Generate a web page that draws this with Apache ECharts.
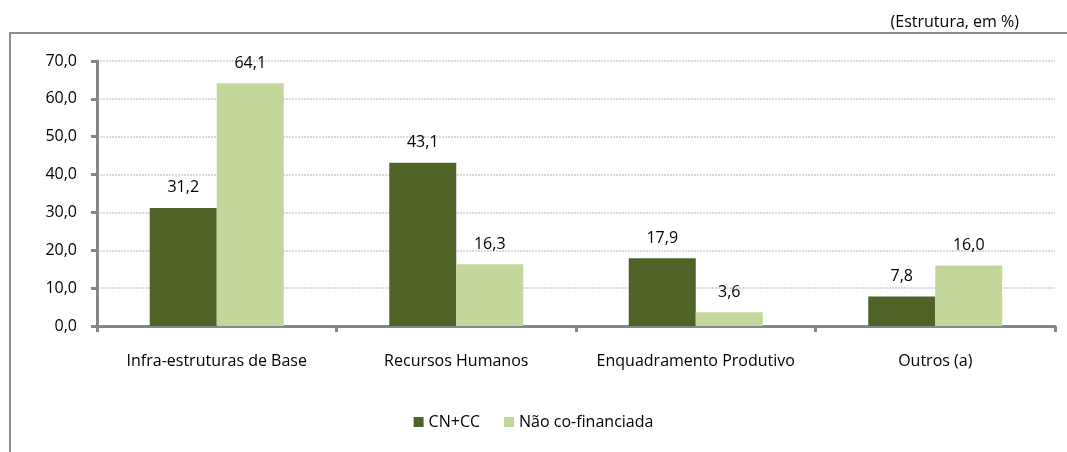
<!DOCTYPE html>
<html>
<head>
<meta charset="UTF-8">
<title></title>
<style>
html, body { margin: 0; padding: 0; background: #fff; }
#myChart { width: 1067px; height: 452px; }
</style>
</head>
<body>
<div id="myChart"></div>
<script src="https://cdn.jsdelivr.net/npm/echarts@6/dist/echarts.min.js"></script>
<script>
var categories = ['Infra-estruturas de Base', 'Recursos Humanos', 'Enquadramento Produtivo', 'Outros (a)'];
var seriesNames = ['CN+CC', 'Não co-financiada'];
var cnccValues = [31.2, 43.1, 17.9, 7.8];
var naoCofinValues = [64.1, 16.3, 3.6, 16.0];
var yTicks = { min: 0, max: 70, interval: 10 };

var fontFamily = '"Open Sans", "Noto Sans", sans-serif';
var fs = 16;

function fmt(v) {
	return v.toFixed(1).replace('.', ',');
}

var myChart = echarts.init(document.getElementById('myChart'));

var options = {
	animation: false,
	textStyle: { fontFamily: fontFamily, color: '#000' },
	graphic: [{
		type: 'rect',
		shape: { x: 10, y: 33, width: 1100, height: 500 },
		style: { fill: 'none', stroke: '#8c8c8c', lineWidth: 2 },
		silent: true
	}, {
		type: 'text',
		right: 48,
		top: 14,
		style: { text: '(Estrutura, em %)', font: fs + 'px ' + fontFamily, fill: '#000' }
	}],
	grid: { left: 97, right: 12, top: 61, bottom: 126 },
	legend: {
		bottom: 17,
		left: 'center',
		itemWidth: 10,
		itemHeight: 10,
		itemGap: 24,
		icon: 'rect',
		textStyle: { fontSize: fs, fontFamily: fontFamily, color: '#000' },
		data: seriesNames
	},
	xAxis: {
		type: 'category',
		data: categories,
		axisLine: { lineStyle: { color: '#868686', width: 3 } },
		axisTick: { show: true, interval: 0, length: 6, lineStyle: { color: '#868686', width: 3 } },
		axisLabel: { interval: 0, fontSize: fs, color: '#000', margin: 27 }
	},
	yAxis: {
		type: 'value',
		min: yTicks.min,
		max: yTicks.max,
		interval: yTicks.interval,
		axisLine: { show: true, lineStyle: { color: '#868686', width: 3 } },
		axisTick: { show: true, length: 6, lineStyle: { color: '#868686', width: 3 } },
		axisLabel: { fontSize: fs, color: '#000', margin: 20, formatter: fmt },
		splitLine: { lineStyle: { color: '#d9d9d9', width: 2, type: [2, 1] } }
	},
	series: [{
		name: seriesNames[0],
		type: 'bar',
		data: cnccValues,
		barWidth: 67,
		barGap: '0%',
		itemStyle: { color: '#4f6228' },
		label: { show: true, position: 'top', distance: 12, fontSize: fs, color: '#000', formatter: function(p) { return fmt(p.value); } }
	}, {
		name: seriesNames[1],
		type: 'bar',
		data: naoCofinValues,
		barWidth: 67,
		barGap: '0%',
		itemStyle: { color: '#c3d69b' },
		label: { show: true, position: 'top', distance: 12, fontSize: fs, color: '#000', formatter: function(p) { return fmt(p.value); } }
	}]
};

myChart.setOption(options);
</script>
</body>
</html>
